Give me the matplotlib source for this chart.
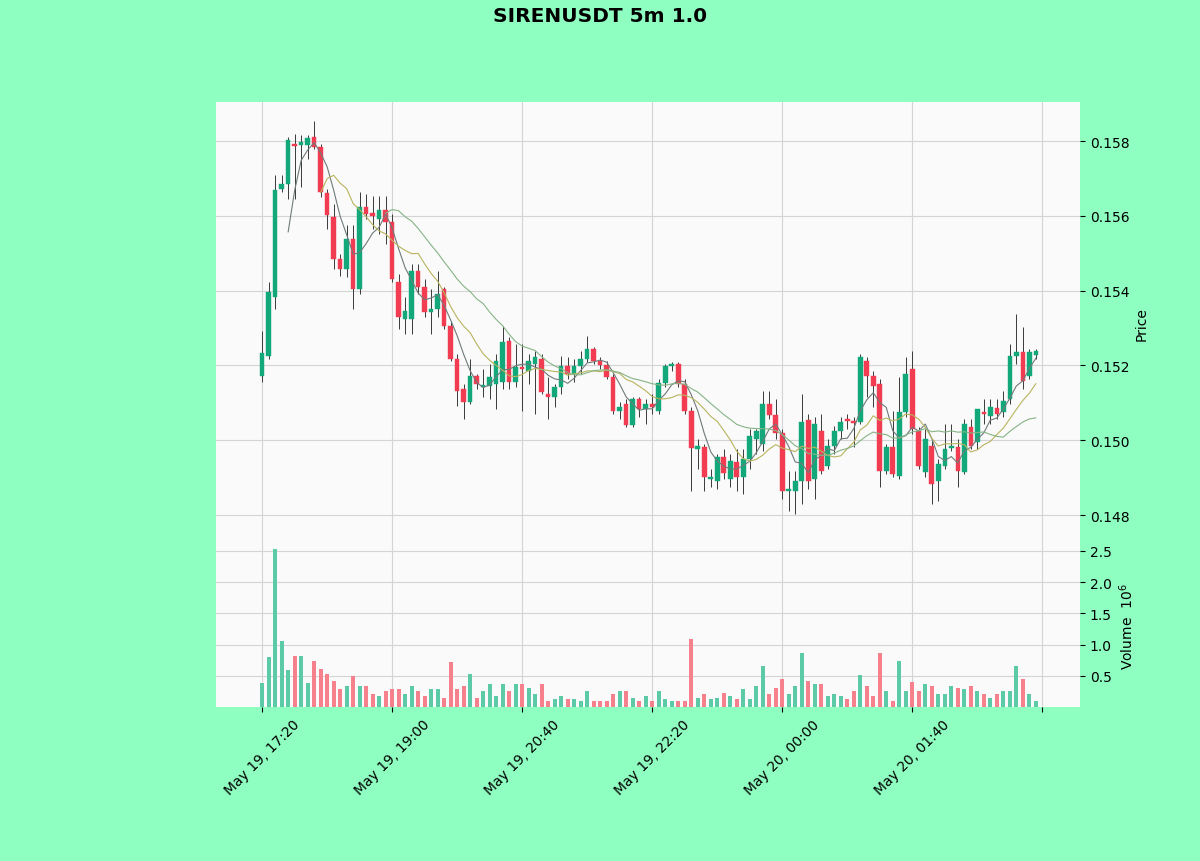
import matplotlib
matplotlib.use("Agg")
import matplotlib.pyplot as plt
import numpy as np
import pandas as pd

title = "SIRENUSDT 5m 1.0"
start_time = "2025-05-19 17:20"
freq_minutes = 5

opens = [0.15172,0.15225,0.15383,0.15672,0.15685,0.15792,0.15789,0.15789,0.15811,0.15784,
         0.15661,0.15597,0.15485,0.15458,0.15538,0.15404,0.15624,0.15608,0.15591,0.15616,
         0.15583,0.15423,0.15324,0.15324,0.15452,0.15410,0.15343,0.15351,0.15404,0.15305,
         0.15217,0.15137,0.15102,0.15172,0.15142,0.15145,0.15150,0.15156,0.15265,0.15156,
         0.15196,0.15185,0.15204,0.15217,0.15124,0.15115,0.15142,0.15198,0.15177,0.15198,
         0.15217,0.15244,0.15212,0.15201,0.15169,0.15078,0.15097,0.15041,0.15110,0.15083,
         0.15097,0.15078,0.15153,0.15198,0.15204,0.15150,0.15078,0.14976,0.14982,0.14896,
         0.14891,0.14955,0.14896,0.14942,0.14902,0.14950,0.15003,0.14990,0.15097,0.15067,
         0.15019,0.14864,0.14864,0.14891,0.15054,0.14896,0.15025,0.14931,0.14984,0.15025,
         0.15057,0.15051,0.15049,0.15212,0.15172,0.15150,0.14918,0.14982,0.14904,0.15075,
         0.15190,0.15025,0.14915,0.14984,0.14891,0.14931,0.14979,0.14982,0.14915,0.15035,
         0.14995,0.15075,0.15065,0.15086,0.15075,0.15110,0.15225,0.15236,0.15172,0.15228]
highs = [0.15292,0.15423,0.15709,0.15709,0.15811,0.15819,0.15816,0.15816,0.15854,0.15792,
         0.15672,0.15632,0.15498,0.15575,0.15575,0.15664,0.15658,0.15653,0.15653,0.15653,
         0.15605,0.15444,0.15383,0.15471,0.15471,0.15431,0.15404,0.15452,0.15410,0.15319,
         0.15230,0.15150,0.15217,0.15177,0.15190,0.15204,0.15230,0.15305,0.15276,0.15257,
         0.15257,0.15230,0.15239,0.15230,0.15169,0.15150,0.15225,0.15222,0.15217,0.15239,
         0.15279,0.15249,0.15222,0.15212,0.15177,0.15102,0.15110,0.15115,0.15115,0.15110,
         0.15124,0.15164,0.15204,0.15209,0.15209,0.15164,0.15089,0.15003,0.14990,0.14923,
         0.14963,0.14976,0.14963,0.14976,0.14976,0.15030,0.15030,0.15132,0.15132,0.15110,
         0.15030,0.14917,0.14917,0.15124,0.15070,0.15062,0.15070,0.15003,0.15038,0.15062,
         0.15070,0.15062,0.15230,0.15222,0.15185,0.15164,0.14990,0.15078,0.15169,0.15222,
         0.15239,0.15035,0.15030,0.15003,0.14950,0.15043,0.15043,0.15003,0.15057,0.15057,
         0.15083,0.15110,0.15110,0.15110,0.15132,0.15257,0.15337,0.15302,0.15244,0.15244]
lows = [0.15156,0.15217,0.15351,0.15664,0.15645,0.15645,0.15677,0.15752,0.15779,0.15650,
        0.15565,0.15458,0.15439,0.15436,0.15351,0.15391,0.15591,0.15565,0.15551,0.15525,
        0.15423,0.15297,0.15284,0.15284,0.15391,0.15329,0.15284,0.15329,0.15297,0.15212,
        0.15091,0.15057,0.15097,0.15137,0.15115,0.15110,0.15083,0.15137,0.15137,0.15142,
        0.15078,0.15150,0.15070,0.15124,0.15057,0.15089,0.15124,0.15164,0.15156,0.15177,
        0.15209,0.15204,0.15190,0.15164,0.15070,0.15057,0.15035,0.15035,0.15062,0.15043,
        0.15070,0.15070,0.15142,0.15185,0.15142,0.15070,0.14864,0.14923,0.14864,0.14875,
        0.14869,0.14896,0.14875,0.14864,0.14856,0.14923,0.14963,0.14971,0.15057,0.15003,
        0.14843,0.14811,0.14803,0.14829,0.14869,0.14843,0.14910,0.14923,0.14963,0.15003,
        0.15030,0.14982,0.15043,0.15115,0.15089,0.14875,0.14910,0.14902,0.14896,0.15062,
        0.15017,0.14923,0.14902,0.14829,0.14837,0.14923,0.14971,0.14875,0.14910,0.14976,
        0.14976,0.15043,0.15043,0.15057,0.15062,0.15097,0.15204,0.15137,0.15164,0.15217]
closes = [0.15233,0.15396,0.15669,0.15685,0.15803,0.15787,0.15797,0.15808,0.15784,0.15664,
          0.15602,0.15485,0.15458,0.15538,0.15404,0.15624,0.15605,0.15599,0.15616,0.15583,
          0.15431,0.15329,0.15345,0.15452,0.15410,0.15343,0.15351,0.15391,0.15305,0.15217,
          0.15132,0.15102,0.15172,0.15150,0.15148,0.15169,0.15212,0.15263,0.15156,0.15196,
          0.15190,0.15212,0.15222,0.15129,0.15115,0.15142,0.15198,0.15177,0.15198,0.15217,
          0.15244,0.15212,0.15201,0.15169,0.15078,0.15089,0.15041,0.15110,0.15083,0.15097,
          0.15089,0.15153,0.15198,0.15204,0.15150,0.15078,0.14979,0.14984,0.14902,0.14902,
          0.14955,0.14912,0.14944,0.14902,0.14950,0.15011,0.15025,0.15097,0.15067,0.15019,
          0.14864,0.14869,0.14891,0.15049,0.14891,0.15043,0.14918,0.14984,0.15025,0.15049,
          0.15051,0.15046,0.15222,0.15172,0.15145,0.14918,0.14982,0.14910,0.15075,0.15177,
          0.15030,0.14931,0.15003,0.14883,0.14936,0.14976,0.14984,0.14918,0.15043,0.14984,
          0.15083,0.15070,0.15089,0.15070,0.15105,0.15225,0.15236,0.15158,0.15236,0.15239]
volumes = [390000,800000,2530000,1050000,600000,820000,820000,390000,740000,610000,
           530000,420000,290000,340000,500000,340000,340000,200000,180000,260000,
           280000,280000,210000,330000,260000,180000,280000,280000,150000,720000,
           280000,330000,530000,150000,250000,360000,180000,370000,260000,360000,
           360000,310000,200000,370000,90000,120000,180000,130000,120000,100000,
           250000,90000,90000,90000,210000,250000,250000,150000,90000,170000,
           90000,250000,130000,90000,100000,100000,1090000,150000,200000,120000,
           150000,230000,170000,130000,280000,130000,340000,660000,200000,310000,
           450000,200000,340000,870000,420000,370000,370000,180000,200000,180000,
           130000,250000,520000,340000,170000,870000,260000,100000,740000,260000,
           400000,260000,360000,340000,210000,210000,330000,310000,290000,330000,
           250000,210000,150000,210000,260000,260000,660000,450000,200000,90000]
ma_windows = [5, 10, 20]

up_color = "#12a87a"
down_color = "#f23c52"
vol_up = "#5cc9a7"
vol_down = "#f7808d"
ma_colors = ["#707a7a", "#b8b45e", "#86b486"]
bg = "#8fffc1"

o = np.array(opens); h = np.array(highs); l = np.array(lows); c = np.array(closes)
v = np.array(volumes) / 1e6
n = len(c)
x = np.arange(n)
times = pd.date_range(start_time, periods=n, freq=f"{freq_minutes}min")

fig = plt.figure(figsize=(12, 8.62), dpi=100, facecolor=bg)
ax = fig.add_axes([0.18, 0.3677, 0.72, 0.5128])
axv = fig.add_axes([0.18, 0.1787, 0.72, 0.189], sharex=ax)

for a in (ax, axv):
    a.set_facecolor("#fafafa")
    for s in a.spines.values():
        s.set_visible(False)
    a.grid(True, color="#d4d4d4", linewidth=0.8)
    a.set_axisbelow(True)
    a.yaxis.tick_right()
    a.yaxis.set_label_position("right")

up = c >= o
colors = np.where(up, up_color, down_color)
ax.vlines(x, l, h, colors="#3a3a3a", linewidth=0.7, zorder=2)
body_bottom = np.minimum(o, c)
body_h = np.maximum(np.abs(c - o), 0.000012)
ax.bar(x, body_h, bottom=body_bottom, width=0.7, color=colors, edgecolor=colors,
       linewidth=0.3, zorder=3)

closes_s = pd.Series(c)
for w, col in zip(ma_windows, ma_colors):
    ax.plot(x, closes_s.rolling(w).mean(), color=col, linewidth=0.8, zorder=4)

price_ticks = [0.148, 0.150, 0.152, 0.154, 0.156, 0.158]
ax.set_ylim(0.147225, 0.159043)
ax.set_yticks(price_ticks)
ax.set_yticklabels([f"{t:.3f}" for t in price_ticks])
ax.set_ylabel("Price", fontsize=10)
ax.tick_params(axis="x", which="both", bottom=False, labelbottom=False)

vcolors = np.where(up, vol_up, vol_down)
axv.bar(x, v, width=0.6, color=vcolors, zorder=3)
vol_ticks = [0.5, 1.0, 1.5, 2.0, 2.5]
axv.set_ylim(0, 2.61)
axv.set_yticks(vol_ticks)
axv.set_yticklabels([f"{t:.1f}" for t in vol_ticks])
axv.set_ylabel("Volume  $10^6$", fontsize=10)

ticks = list(range(0, n + 1, 20))
labels = [times[t].strftime("%b %d, %H:%M") if t < n else "" for t in ticks]
axv.set_xticks(ticks)
axv.set_xticklabels(labels, rotation=45, ha="center", fontsize=10)
axv.set_xlim(-7.1, 125.8)

fig.suptitle(title, fontsize=14.5, fontweight="bold", y=0.992)

fig.savefig("out.png", dpi=100, facecolor=bg)
